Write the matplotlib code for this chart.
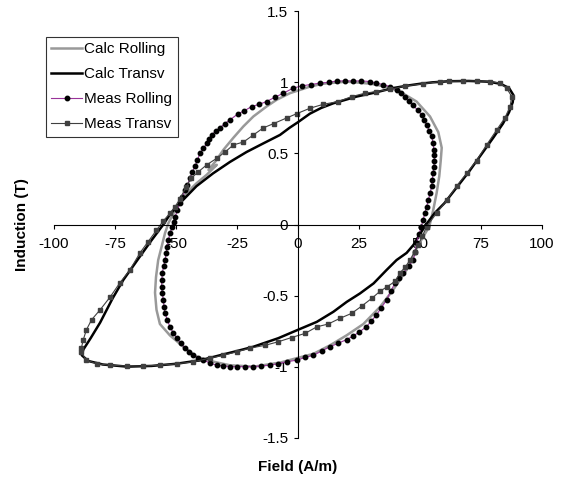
import numpy as np
import matplotlib
matplotlib.use("Agg")
import matplotlib.pyplot as plt

plt.rcParams['font.family'] = ['Liberation Sans', 'DejaVu Sans']

# --- data (Field A/m, Induction T), closed loops ---
calc_rolling_h = [53.8, 55.4, 56.8, 57.9, 58.5, 58.9, 57.5, 54.1, 48.6, 41.8, 37.0, 30.0, 20.0, 10.0,
                  4.9, 0.8, -3.3, -8.8, -12.9, -18.3, -22.4, -26.5, -30.6, -34.0, -36.7, -33.3, -37.4,
                  -41.6, -45.8, -49.7, -53.1, -54.5, -55.9, -57.3, -58.2, -58.6, -58.0, -56.6, -52.5,
                  -47.0, -41.6, -36.0, -28.0, -18.0, -7.0, -0.5, 6.3, 13.1, 19.9, 26.8, 33.6, 39.0,
                  44.5, 48.5, 51.5, 53.8]
calc_rolling_b = [-0.015, 0.10, 0.22, 0.34, 0.45, 0.54, 0.65, 0.76, 0.865, 0.935, 0.965, 0.99, 1.005, 0.99,
                  0.97, 0.947, 0.924, 0.877, 0.83, 0.76, 0.69, 0.61, 0.525, 0.44, 0.384, 0.42, 0.35,
                  0.29, 0.22, 0.125, 0.01, -0.06, -0.156, -0.25, -0.37, -0.48, -0.60, -0.70, -0.78,
                  -0.86, -0.93, -0.96, -0.99, -1.0, -0.97, -0.94, -0.91, -0.85, -0.78, -0.70, -0.58, -0.46,
                  -0.32, -0.17, -0.08, -0.015]

calc_transv_h = [52.5, 56.0, 60.0, 65.0, 70.0, 75.0, 80.0, 84.0, 86.5, 88.0, 88.3, 86.5, 83.0, 78.0, 70.0,
                 62.0, 55.0, 50.0, 45.9, 39.0, 32.0, 24.0, 19.0, 14.5, 9.5, 4.9, 0.0, -3.5, -7.4, -14.3,
                 -21.1, -27.9, -34.8, -41.6, -48.4, -52.5, -55.2, -60.0, -65.0, -71.6, -76.0, -81.1,
                 -85.0, -88.0, -88.6, -86.0, -80.0, -70.0, -60.0, -50.0, -40.0, -32.0, -25.0, -18.3,
                 -8.1, 0.1, 7.7, 14.5, 20.0, 25.4, 31.0, 36.3, 40.4, 44.5, 47.3, 49.5, 52.5]
calc_transv_b = [0.0, 0.08, 0.15, 0.26, 0.37, 0.49, 0.61, 0.71, 0.79, 0.86, 0.91, 0.96, 0.99, 1.005, 1.01,
                 1.008, 1.0, 0.99, 0.98, 0.96, 0.93, 0.90, 0.875, 0.853, 0.82, 0.78, 0.72, 0.68, 0.63, 0.57,
                 0.51, 0.44, 0.36, 0.27, 0.15, 0.07, 0.0, -0.11, -0.23, -0.39, -0.52, -0.69,
                 -0.80, -0.88, -0.92, -0.96, -0.985, -1.0, -0.995, -0.98, -0.955, -0.92, -0.89, -0.86,
                 -0.80, -0.74, -0.685, -0.614, -0.544, -0.485, -0.414, -0.32, -0.25, -0.20, -0.144, -0.08, 0.0]

meas_rolling_h = [50.5, 51.3, 52.0, 52.7, 53.4, 54.1, 54.8, 55.1, 55.3, 55.7, 55.9, 55.9, 55.7, 55.3, 54.8,
                  53.8, 52.7, 51.8, 50.7, 49.0, 47.2, 45.6, 44.0, 42.2, 40.4, 37.7, 35.0, 32.0, 29.5,
                  26.0, 22.6, 19.2, 15.9, 12.5, 9.0, 5.2, 1.5, -1.9, -6.0, -9.5, -12.9, -16.0, -19.0,
                  -22.0, -24.5, -27.9, -30.0, -32.0, -33.8, -35.4, -36.5, -37.4, -38.8, -40.2, -41.2,
                  -42.2, -43.3, -44.3, -45.3, -46.3, -47.4, -48.4, -49.4, -50.4, -51.0, -51.5, -52.5,
                  -53.1, -53.6, -54.0, -54.5, -55.1, -55.6, -55.8, -55.9, -55.6, -55.2, -54.9, -54.5,
                  -53.6, -52.5, -51.2, -49.7, -48.0, -46.3, -44.6, -42.9, -40.9, -38.8, -36.0, -33.3,
                  -30.6, -27.9, -25.1, -21.7, -18.3, -15.0, -11.5, -8.0, -4.6, -0.5, 3.0, 6.3, 9.7,
                  13.1, 16.5, 19.9, 22.6, 25.2, 28.0, 30.0, 32.0, 34.2, 36.3, 38.0, 39.8, 41.5, 43.2,
                  45.3, 47.3, 48.0, 48.6, 49.6, 50.5]
meas_rolling_b = [-0.015, 0.035, 0.08, 0.125, 0.17, 0.22, 0.27, 0.315, 0.36, 0.405, 0.45, 0.49, 0.525, 0.575,
                  0.62, 0.66, 0.70, 0.735, 0.77, 0.805, 0.84, 0.87, 0.90, 0.925, 0.947, 0.97, 0.985,
                  0.995, 1.006, 1.01, 1.01, 1.01, 1.01, 1.0, 0.995, 0.985, 0.975, 0.96, 0.924, 0.895,
                  0.865, 0.845, 0.83, 0.80, 0.78, 0.736, 0.71, 0.68, 0.655, 0.63, 0.60, 0.57, 0.535,
                  0.50, 0.455, 0.41, 0.37, 0.325, 0.28, 0.24, 0.195, 0.15, 0.10, 0.055, 0.02, -0.015,
                  -0.06, -0.11, -0.156, -0.20, -0.25, -0.295, -0.34, -0.39, -0.44, -0.485, -0.53, -0.58,
                  -0.625, -0.67, -0.72, -0.76, -0.80, -0.835, -0.87, -0.895, -0.92, -0.94, -0.954,
                  -0.975, -0.99, -0.995, -1.0, -1.0, -1.0, -1.0, -0.995, -0.99, -0.978, -0.966, -0.954,
                  -0.935, -0.92, -0.89, -0.86, -0.835, -0.81, -0.785, -0.755, -0.72, -0.68, -0.64,
                  -0.585, -0.53, -0.47, -0.41, -0.375, -0.34, -0.295, -0.25, -0.19, -0.13, -0.07, -0.015]

meas_transv_h = [52.7, 56.8, 60.9, 65.0, 69.1, 73.2, 77.3, 81.4, 84.8, 86.9, 87.6, 85.5, 82.8, 78.7, 73.2,
                 67.7, 62.0, 58.2, 51.4, 43.9, 37.7, 32.0, 27.5, 22.0, 16.5, 10.4, 4.9, -0.5, -4.6,
                 -10.0, -14.2, -18.3, -22.4, -26.5, -29.9, -33.3, -37.4, -40.9, -43.8, -45.8, -48.4,
                 -50.4, -52.5, -55.2, -58.0, -61.4, -64.8, -68.9, -73.0, -77.0, -81.1, -84.6, -86.7,
                 -88.0, -88.8, -88.8, -86.7, -82.5, -77.0, -70.2, -63.5, -56.6, -49.7, -42.9, -36.1,
                 -30.6, -25.1, -19.7, -13.5, -8.1, -2.6, 2.9, 7.7, 12.4, 17.2, 22.0, 26.1, 30.2, 33.6,
                 36.3, 39.8, 41.8, 43.9, 45.9, 47.9, 49.3, 51.0, 52.7]
meas_transv_b = [-0.015, 0.08, 0.17, 0.27, 0.36, 0.45, 0.56, 0.665, 0.75, 0.83, 0.90, 0.96, 0.994, 1.006,
                 1.01, 1.01, 1.008, 1.006, 0.99, 0.975, 0.95, 0.935, 0.924, 0.90, 0.865, 0.846, 0.818,
                 0.78, 0.75, 0.71, 0.68, 0.63, 0.58, 0.56, 0.51, 0.466, 0.42, 0.37, 0.325, 0.266, 0.18,
                 0.125, 0.08, 0.025, -0.04, -0.12, -0.20, -0.32, -0.41, -0.51, -0.60, -0.67, -0.74,
                 -0.81, -0.87, -0.90, -0.954, -0.98, -0.99, -0.996, -0.996, -0.99, -0.98, -0.966, -0.94,
                 -0.92, -0.895, -0.87, -0.85, -0.825, -0.795, -0.766, -0.72, -0.70, -0.66, -0.625,
                 -0.574, -0.52, -0.47, -0.44, -0.40, -0.34, -0.30, -0.25, -0.19, -0.144, -0.08, -0.015]

x_ticks = [-100, -75, -50, -25, 0, 25, 50, 75, 100]
y_ticks = [-1.5, -1, -0.5, 0, 0.5, 1, 1.5]
y_tick_labels = ['-1.5', '-1', '-0.5', '0', '0.5', '1', '1.5']

fig = plt.figure(figsize=(5.71, 4.79), dpi=100)
ax = fig.add_axes([0.0946, 0.0862, 0.8546, 0.8902])

ax.plot(calc_rolling_h, calc_rolling_b, color='#999999', lw=1.8, label='Calc Rolling')
ax.plot(calc_transv_h, calc_transv_b, color='black', lw=1.8, label='Calc Transv')
ax.plot(meas_rolling_h, meas_rolling_b, color='#993399', lw=0.8, marker='o', ms=3.2,
        mfc='black', mec='black', label='Meas Rolling')
ax.plot(meas_transv_h, meas_transv_b, color='#404040', lw=0.8, marker='s', ms=3.0,
        mfc='#404040', mec='#404040', label='Meas Transv')

ax.set_xlim(-100, 100)
ax.set_ylim(-1.5, 1.5)
ax.spines['left'].set_position('zero')
ax.spines['bottom'].set_position('zero')
ax.spines['top'].set_visible(False)
ax.spines['right'].set_visible(False)
for s in ['left', 'bottom']:
    ax.spines[s].set_linewidth(0.8)
    ax.spines[s].set_color('black')
ax.set_xticks(x_ticks)
ax.set_xticklabels([str(t) for t in x_ticks])
ax.set_yticks(y_ticks)
ax.set_yticklabels(y_tick_labels)
ax.tick_params(axis='x', direction='out', length=3, width=0.8, pad=6, labelsize=11)
ax.tick_params(axis='y', direction='out', length=3, width=0.8, pad=4, labelsize=11)
ax.patch.set_alpha(0)

fig.text(298 / 571, 1 - 467 / 479, 'Field (A/m)', ha='center', va='center',
         fontsize=11, fontweight='bold')
fig.text(22 / 571, 1 - 225 / 479, 'Induction (T)', ha='center', va='center',
         rotation=90, fontsize=11, fontweight='bold')

leg = fig.legend(loc='upper left', bbox_to_anchor=(46 / 571, 1 - 37 / 479), fontsize=11,
                 frameon=True, fancybox=False, borderaxespad=0, borderpad=0.35,
                 handlelength=2.0, handletextpad=0.15, labelspacing=0.72)
leg.get_frame().set_edgecolor('black')
leg.get_frame().set_linewidth(0.8)

fig.savefig('out.png', dpi=100)
